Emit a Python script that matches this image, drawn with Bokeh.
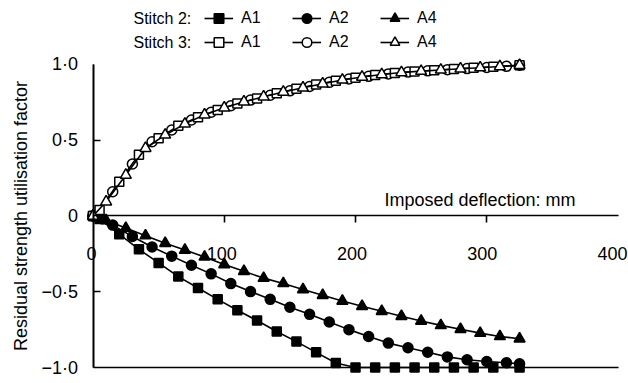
from bokeh.plotting import figure
from bokeh.models import LinearAxis, FixedTicker, Legend, LegendItem, Label, Range1d
from bokeh.embed import file_html
from bokeh.resources import INLINE

# ---- data ----
x_a1 = [0, 5, 20, 35, 50, 65, 80, 95, 110, 125, 140, 155, 170, 185, 200, 215, 230, 245, 260, 275, 290, 305, 325]
x_a2 = [0, 15, 30, 45, 60, 75, 90, 105, 120, 135, 150, 165, 180, 195, 210, 225, 240, 255, 270, 285, 300, 315, 325]
x_a4 = [0, 10, 25, 40, 55, 70, 85, 100, 115, 130, 145, 160, 175, 190, 205, 220, 235, 250, 265, 280, 295, 310, 325]

s2_a1 = [0, -0.02, -0.12, -0.22, -0.31, -0.40, -0.475, -0.55, -0.622, -0.69, -0.762, -0.829, -0.90,
         -0.97, -1.0, -1.0, -1.0, -1.0, -1.0, -1.0, -1.0, -1.0, -1.0]
s2_a2 = [0, -0.06, -0.135, -0.205, -0.265, -0.325, -0.382, -0.446, -0.499, -0.55, -0.602, -0.649, -0.70,
         -0.75, -0.795, -0.839, -0.87, -0.899, -0.93, -0.949, -0.96, -0.969, -0.975]
s2_a4 = [0, -0.03, -0.08, -0.13, -0.18, -0.225, -0.27, -0.32, -0.365, -0.41, -0.445, -0.485, -0.523,
         -0.561, -0.596, -0.629, -0.662, -0.693, -0.722, -0.748, -0.773, -0.795, -0.81]

s3_a1 = [0, 0.04, 0.226, 0.405, 0.513, 0.595, 0.652, 0.70, 0.742, 0.776, 0.81, 0.84, 0.868,
         0.893, 0.913, 0.93, 0.944, 0.954, 0.962, 0.97, 0.978, 0.985, 0.995]
s3_a2 = [0, 0.16, 0.343, 0.49, 0.568, 0.634, 0.685, 0.728, 0.765, 0.797, 0.826, 0.855, 0.882,
         0.904, 0.922, 0.938, 0.95, 0.958, 0.966, 0.973, 0.98, 0.988, 0.995]
s3_a4 = [0, 0.094, 0.27, 0.447, 0.535, 0.608, 0.668, 0.714, 0.754, 0.787, 0.818, 0.846, 0.873,
         0.898, 0.917, 0.934, 0.947, 0.956, 0.964, 0.972, 0.979, 0.987, 0.995]

x_tick_labels = [0, 100, 200, 300, 400]
x_tick_marks = [100, 200, 300]
y_tick_labels = {-1.0: "\u22121\u00b70", -0.5: "\u22120\u00b75", 0: "0", 0.5: "0\u00b75", 1.0: "1\u00b70"}
y_tick_marks = [-0.5, 0.5]
series_labels = ["A1", "A2", "A4"]
group_labels = ["Stitch 2:", "Stitch 3:"]

FONT = "Liberation Sans"
INK = "black"
W, H = 628, 383

# the frame fills the whole canvas so nothing outside the data area gets clipped
p = figure(width=W, height=H, output_backend="svg", toolbar_location=None, title=None,
           x_range=Range1d(-70.48, 408.0), y_range=Range1d(-1.1056, 1.4224),
           min_border=0, x_axis_type=None, y_axis_type=None)
p.extra_x_ranges = {"lab": Range1d(-69.87, 412.28)}
p.outline_line_color = None
p.background_fill_color = "white"
p.border_fill_color = "white"


def mk_axis(ticks, loc, bounds, **kw):
    base = dict(ticker=FixedTicker(ticks=ticks, minor_ticks=[]), fixed_location=loc, bounds=bounds,
                axis_line_color=INK, axis_line_width=1.6,
                major_tick_line_color=INK, major_tick_line_width=1.6,
                minor_tick_line_color=None, minor_tick_in=0, minor_tick_out=0,
                major_label_text_font=FONT, major_label_text_font_size="18px",
                major_label_text_color=INK)
    base.update(kw)
    return LinearAxis(**base)


# x axis through y = 0: labels and ticks as separate axes
x_lab = mk_axis(x_tick_labels, 0, (0, 400), major_tick_in=0, major_tick_out=0,
                axis_line_color=None, x_range_name="lab", major_label_standoff=31)
x_tk = mk_axis(x_tick_marks, 0, (0, 400), major_tick_in=0, major_tick_out=7,
               major_label_text_color=None)
x_bot = mk_axis([], -1, (0, 400), major_tick_in=0, major_tick_out=0, major_label_text_color=None)
p.add_layout(x_lab, "below")
p.add_layout(x_tk, "below")
p.add_layout(x_bot, "below")

y_lab = mk_axis(list(y_tick_labels.keys()), 0, (-1, 1), major_tick_in=0, major_tick_out=0,
                major_label_overrides=y_tick_labels, major_label_standoff=15,
                axis_label="Residual strength utilisation factor",
                axis_label_text_font=FONT, axis_label_text_font_size="18px",
                axis_label_text_font_style="normal", axis_label_text_color=INK,
                axis_label_standoff=8)
y_tk = mk_axis(y_tick_marks, 0, (-1, 1), major_tick_in=7, major_tick_out=0,
               major_label_text_color=None)
p.add_layout(y_lab, "left")
p.add_layout(y_tk, "left")

# ---- series ----
def draw(xs, ys, marker, size, fill):
    ln = p.line(xs, ys, line_color=INK, line_width=1.6)
    sc = p.scatter(xs, ys, marker=marker, size=size, fill_color=fill, line_color=INK,
                   line_width=1.5)
    return ln, sc

s2 = [draw(x_a1, s2_a1, "square", 9, INK),
      draw(x_a2, s2_a2, "circle", 10, INK),
      draw(x_a4, s2_a4, "triangle", 11, INK)]
s3_a2r = draw(x_a2, s3_a2, "circle", 10, "white")
s3_a1r = draw(x_a1, s3_a1, "square", 9, "white")
s3_a4r = draw(x_a4, s3_a4, "triangle", 11, "white")
s3 = [s3_a1r, s3_a2r, s3_a4r]


def mk_legend(rends, vy):
    items = [LegendItem(label=lab, renderers=[ln, sc]) for lab, (ln, sc) in zip(series_labels, rends)]
    return Legend(items=items, orientation="horizontal", location=(204, vy),
                  glyph_width=29, glyph_height=24, label_height=24, label_width=20,
                  label_standoff=8, spacing=31, padding=0, margin=0,
                  border_line_color=None, background_fill_alpha=0,
                  label_text_font=FONT, label_text_font_size="16px", label_text_color=INK)

p.add_layout(mk_legend(s2, 353.5))
p.add_layout(mk_legend(s3, 329))

for txt, yy in zip(group_labels, [365.5, 341]):
    p.add_layout(Label(x=133, y=yy, x_units="screen", y_units="screen", text=txt,
                       text_font=FONT, text_font_size="16px", text_color=INK,
                       text_baseline="middle", text_align="left"))

p.add_layout(Label(x=575, y=184, x_units="screen", y_units="screen",
                   text="Imposed deflection: mm", text_font=FONT, text_font_size="18px",
                   text_color=INK, text_baseline="middle", text_align="right"))

open("out.html", "w").write(file_html(p, INLINE))
